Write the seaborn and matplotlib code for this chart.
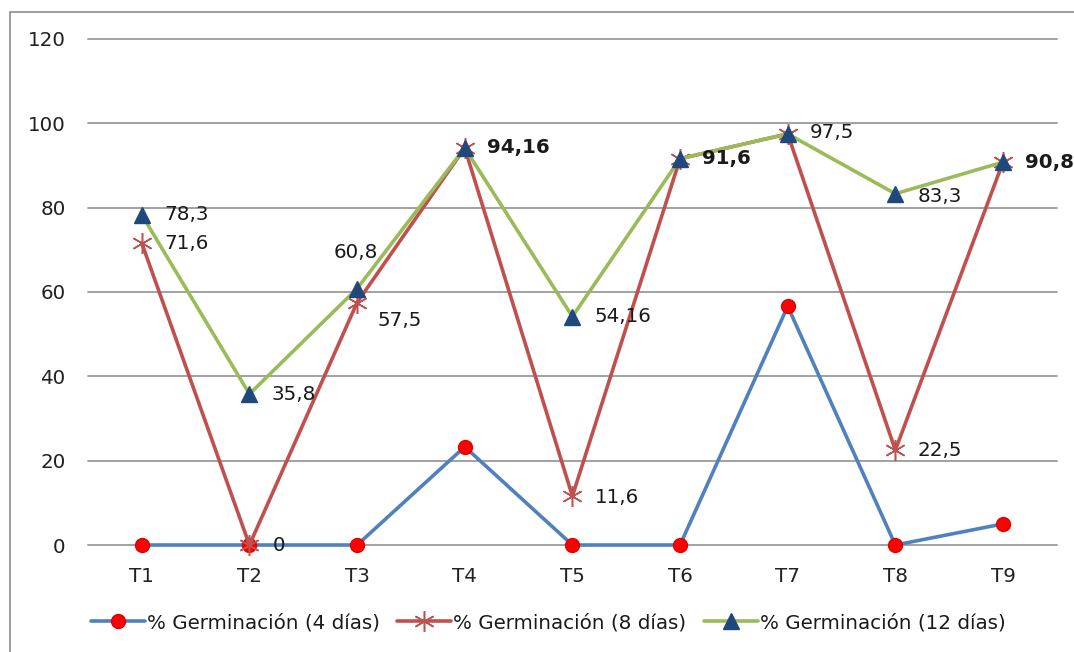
import matplotlib
matplotlib.use("Agg")
import matplotlib.pyplot as plt
import seaborn as sns
import pandas as pd
from matplotlib.patches import Rectangle

# Treatments and germination percentages
tratamientos = ["T1", "T2", "T3", "T4", "T5", "T6", "T7", "T8", "T9"]
germ_4 = [0, 0, 0, 23.3, 0, 0, 56.6, 0, 5.0]
germ_8 = [71.6, 0, 57.5, 94.16, 11.6, 91.6, 97.5, 22.5, 90.8]
germ_12 = [78.3, 35.8, 60.8, 94.16, 54.16, 91.6, 97.5, 83.3, 90.8]
series_names = ["% Germinación (4 días)", "% Germinación (8 días)", "% Germinación (12 días)"]
y_ticks = [0, 20, 40, 60, 80, 100, 120]

sns.set_theme(style="white")
plt.rcParams["font.family"] = ["DejaVu Sans"]
FS = 14.3

fig = plt.figure(figsize=(10.74, 6.52), dpi=100)
fig.patch.set_facecolor("white")
ax = fig.add_axes([0.0819, 0.1641, 0.9021, 0.7761])

x = list(range(len(tratamientos)))
df = pd.DataFrame({"x": x, "g4": germ_4, "g8": germ_8, "g12": germ_12})

asterisk = (6, 2, 0)
styles = [
    dict(col="g4", color="#4F81BD", marker="o", mfc="#FF0000", mec="#E00000", ms=10, mew=1),
    dict(col="g8", color="#C0504D", marker=asterisk, mfc="#C0504D", mec="#C0504D", ms=15, mew=1.1),
    dict(col="g12", color="#9BBB59", marker="^", mfc="#1F497D", mec="#1F497D", ms=11, mew=1),
]
for st, name in zip(styles, series_names):
    sns.lineplot(data=df, x="x", y=st["col"], ax=ax, color=st["color"], lw=2.6,
                 marker=st["marker"], markerfacecolor=st["mfc"], markeredgecolor=st["mec"],
                 markersize=st["ms"], markeredgewidth=st["mew"], label=name, zorder=3,
                 clip_on=False)

# Value labels: (series values, index, dx pt, dy pt, ha, bold)
lab = [
    (germ_12, 0, 16, 0, "left", False),
    (germ_8, 0, 16, 0, "left", False),
    (germ_12, 1, 16, 0, "left", False),
    (germ_8, 1, 17, 0, "left", False),
    (germ_12, 2, 15, 26, "right", False),
    (germ_8, 2, 14.5, -13, "left", False),
    (germ_12, 3, 16, 0, "left", True),
    (germ_12, 4, 16, 0, "left", False),
    (germ_8, 4, 16, -1, "left", False),
    (germ_12, 5, 16, 0, "left", True),
    (germ_12, 6, 16, 1, "left", False),
    (germ_12, 7, 16, -2, "left", False),
    (germ_8, 7, 16, 0, "left", False),
    (germ_12, 8, 16, 0, "left", True),
]
for vals, i, dx, dy, ha, bold in lab:
    v = vals[i]
    txt = f"{v:g}".replace(".", ",")
    ax.annotate(txt, (x[i], v), xytext=(dx, dy), textcoords="offset points",
                ha=ha, va="center", fontsize=FS, color="#1a1a1a",
                fontweight="bold" if bold else "normal", zorder=5)

ax.set_xlim(-0.5, len(tratamientos) - 0.5)
ax.set_ylim(0, 120)
ax.set_xticks(x)
ax.set_xticklabels(tratamientos)
ax.set_yticks(y_ticks)
ax.set_xlabel("")
ax.set_ylabel("")
ax.tick_params(axis="both", length=0, labelsize=FS, colors="#222222")
ax.tick_params(axis="y", pad=16)
ax.tick_params(axis="x", pad=16)
ax.yaxis.grid(True, color="#9a9a9a", lw=1.3)
for gl in ax.get_ygridlines():
    gl.set_clip_on(False)
ax.set_axisbelow(True)
for s in ax.spines.values():
    s.set_visible(False)

leg = ax.legend(loc="center", bbox_to_anchor=(0.475, -0.154), ncol=3, frameon=False,
                fontsize=FS, handlelength=2.7, handletextpad=0.1, columnspacing=0.9,
                numpoints=1, borderaxespad=0)
for t in leg.get_texts():
    t.set_color("#1a1a1a")

fig.add_artist(Rectangle((10 / 1074, -0.05), 1.2, 1 - 12 / 652 + 0.05,
                         transform=fig.transFigure, fill=False, ec="#8c8c8c", lw=1.2))

fig.savefig("out.png", dpi=100)
